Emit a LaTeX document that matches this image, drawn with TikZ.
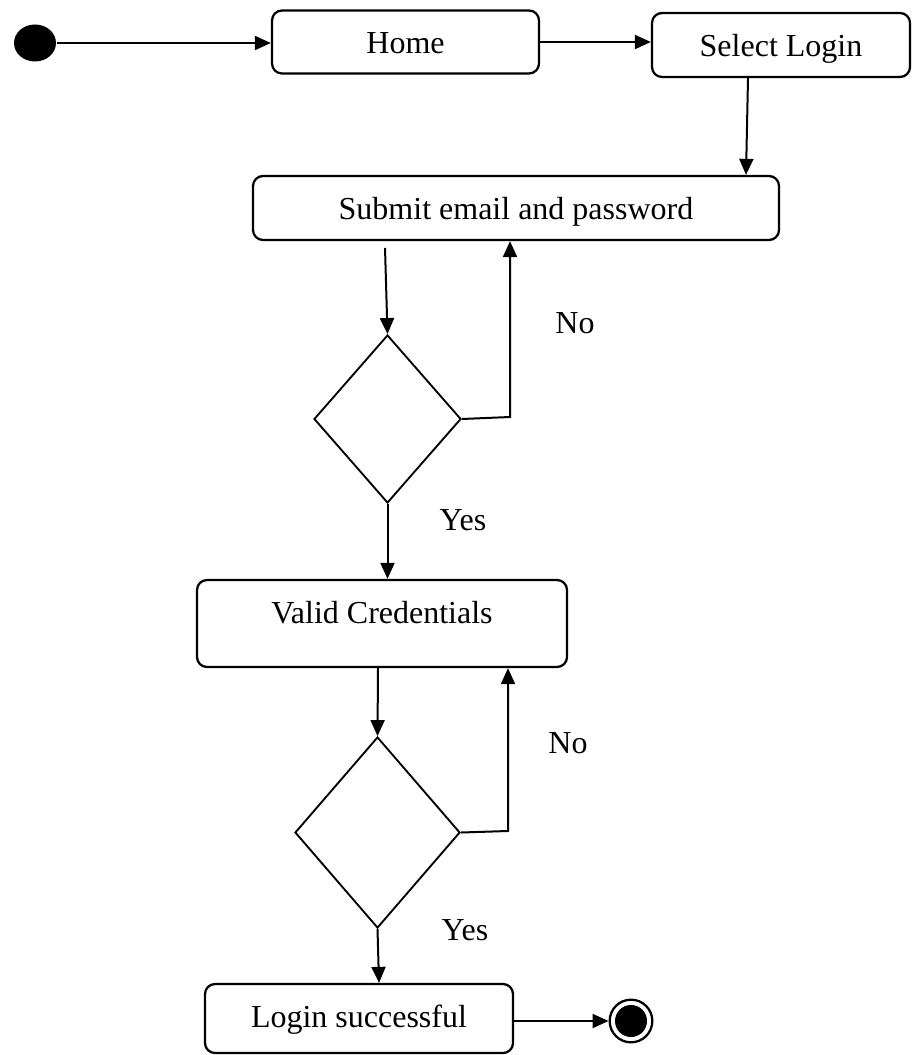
\documentclass[tikz,border=0pt]{standalone}
\usepackage{fontspec}
\setmainfont{Liberation Serif}
\usetikzlibrary{shapes.geometric,arrows.meta}
\begin{document}
\begin{tikzpicture}[x=0.75pt,y=-0.75pt,
  line width=1.5pt,
  every node/.style={font=\fontsize{24}{28}\selectfont},
  state/.style={draw, line width=1.7pt, rounded corners=7.5pt, inner sep=0pt, text height=17pt, text depth=0pt},
  choice/.style={draw, diamond, inner sep=0pt, line width=1.4pt},
  flow/.style={-{Triangle[length=12pt,width=10.5pt]}},
  lbl/.style={inner sep=0pt}]
\useasboundingbox (0,0) rectangle (912,1055);

% start and end markers
\node[ellipse, fill, inner sep=0pt, minimum width=31.5pt, minimum height=27.75pt] (start) at (35,43) {};
\node[circle, draw, line width=1.7pt, inner sep=0pt, minimum size=32pt] (end) at (631,1021) {};
\node[circle, fill, inner sep=0pt, minimum size=24pt] (endcore) at (end) {};

% activity states
\node[state, minimum width=200.25pt, minimum height=47.25pt] (home) at (405.5,42) {Home};
\node[state, minimum width=193.5pt, minimum height=48pt] (select) at (781,45) {Select Login};
\node[state, minimum width=394.5pt, minimum height=48pt] (submit) at (516,208) {Submit email and password};
\node[state, minimum width=277.5pt, minimum height=65.25pt, text height=17pt, text depth=17pt] (valid) at (382,623.5) {Valid Credentials};
\node[state, minimum width=231pt, minimum height=51.75pt, text height=13pt] (login) at (359,1018.5) {Login successful};

% decisions
\node[choice, minimum width=110.25pt, minimum height=126pt] (d1) at (387.5,419) {};
\node[choice, minimum width=123.75pt, minimum height=143.25pt] (d2) at (377.5,832.5) {};

% guard labels
\node[lbl] (no1) at (575,323) {No};
\node[lbl] (yes1) at (463,520) {Yes};
\node[lbl] (no2) at (568,743) {No};
\node[lbl] (yes2) at (465,930) {Yes};

% bend points of the retry loops
\coordinate (n1) at (510,417);
\coordinate (n2) at (508,831);

% transitions
\draw[flow] (start.east) -- (home.west |- start.east);
\draw[flow] (home.east) -- (select.west |- home.east);
\draw[flow] ([xshift=-24.75pt]select.south) -- ([xshift=172.5pt]submit.north);
\draw[flow] ([xshift=-98.25pt,yshift=-5pt]submit.south) -- (d1.north);
\draw[flow] (d1.east) -- (n1) -- (n1 |- submit.south);
\draw[flow] (d1.south) -- (d1.south |- valid.north);
\draw[flow] ([xshift=-3pt]valid.south) -- (d2.north);
\draw[flow] (d2.east) -- (n2) -- (n2 |- valid.south);
\draw[flow] (d2.south) -- ([xshift=15pt]login.north);
\draw[flow] (login.east |- end.west) -- (end.west);
\end{tikzpicture}
\end{document}
